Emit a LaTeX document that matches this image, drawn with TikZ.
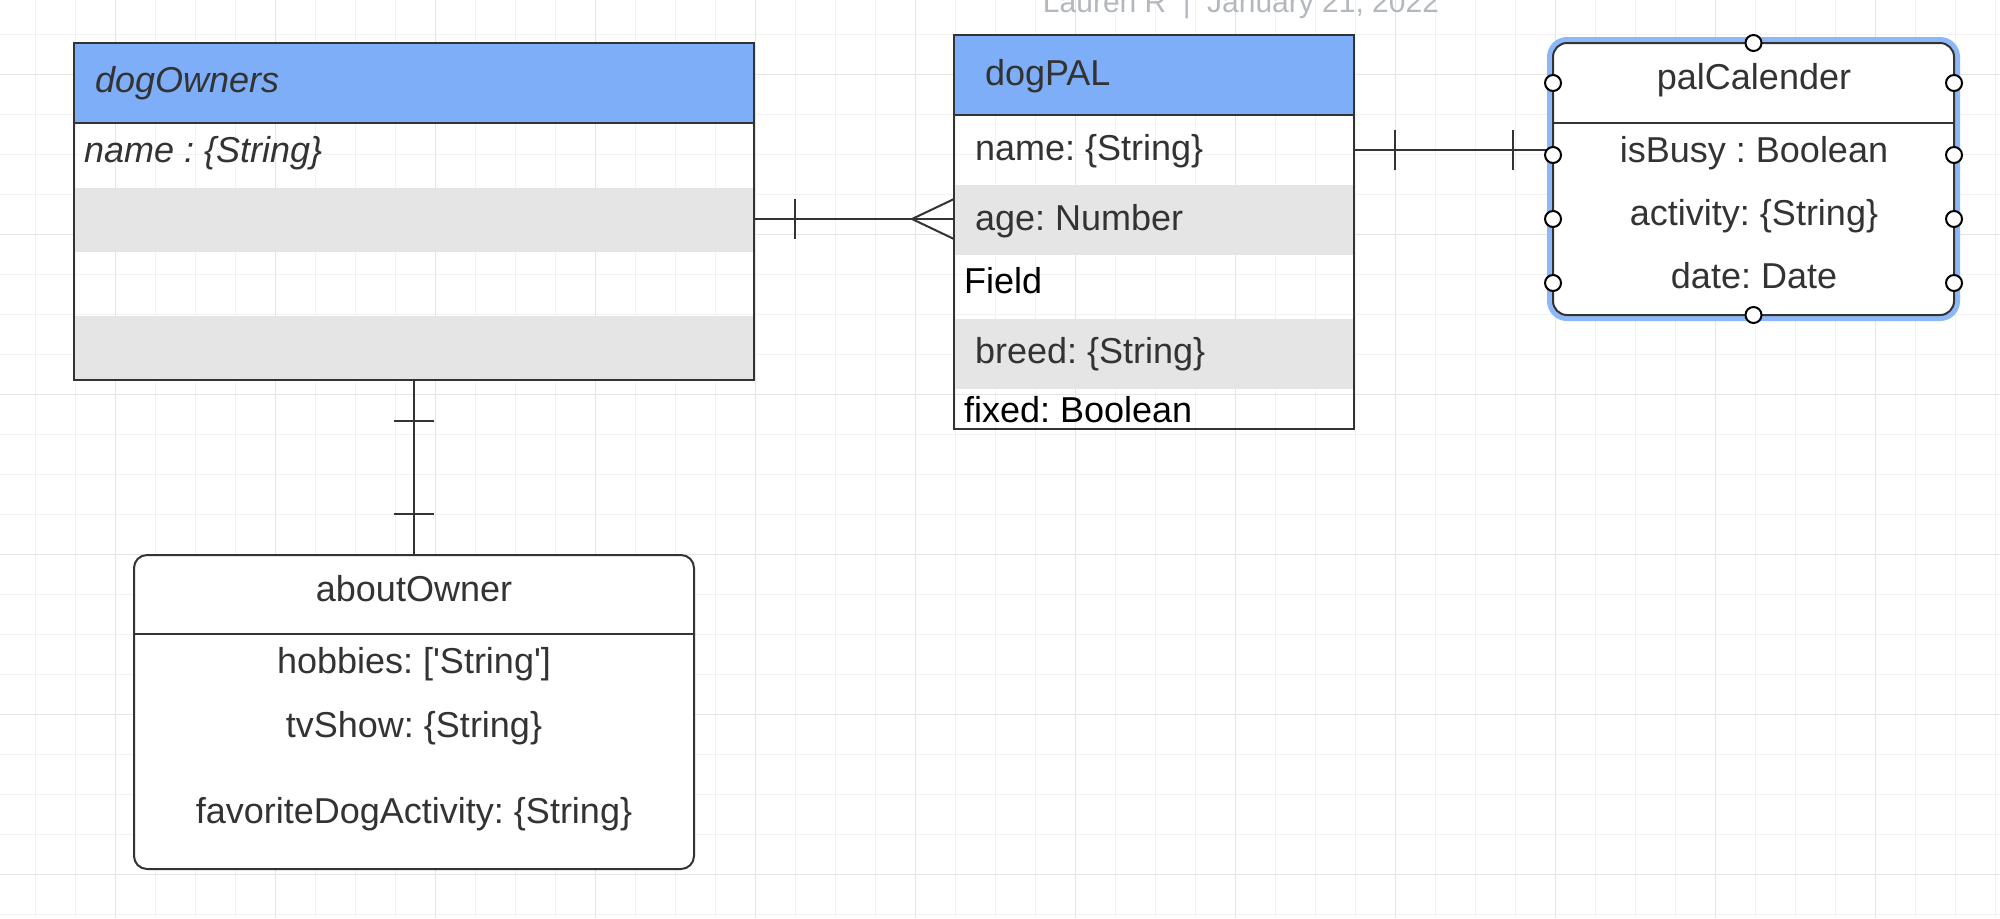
\documentclass[tikz,border=0pt]{standalone}
\usepackage{fontspec}
\setmainfont{Liberation Sans}
\usetikzlibrary{calc}
\definecolor{hdr}{HTML}{7DAEF7}
\definecolor{rowgray}{HTML}{E5E5E5}
\definecolor{txt}{HTML}{333333}
\definecolor{edge}{HTML}{333333}
\definecolor{selblue}{HTML}{8DB8F7}
\definecolor{gridminor}{HTML}{F2F2F2}
\definecolor{gridmajor}{HTML}{E4E4E4}
\definecolor{titlegray}{HTML}{B3B7BE}
\frenchspacing
\begin{document}
\begin{tikzpicture}[x=0.5pt,y=-0.5pt,
  fillrect/.style={inner sep=0, outer sep=0, anchor=north west, draw=none},
  hdrfill/.style={fillrect, fill=hdr},
  grayrow/.style={fillrect, fill=rowgray},
  box/.style={inner sep=0, outer sep=0, anchor=north west, draw=edge, line width=1pt},
  rbox/.style={box, fill=white, rounded corners=7pt},
  edgeline/.style={draw=edge, line width=1pt},
  conn/.style={draw=edge, line width=1pt},
  lbl/.style={inner sep=0, outer sep=0, text=txt, font=\fontsize{18}{21}\selectfont},
  blk/.style={lbl, text=black},
  port/.style={circle, draw=black, fill=white, line width=1pt, minimum size=8pt, inner sep=0}
]
\useasboundingbox (0,0) rectangle (2000,918);
\fill[white] (0,0) rectangle (2000,918);
% grid
\foreach \x in {35,75,...,1995} \draw[gridminor, line width=0.5pt] (\x,0) -- (\x,918);
\foreach \y in {34,74,...,914} \draw[gridminor, line width=0.5pt] (0,\y) -- (2000,\y);
\foreach \x in {115,275,...,1875} \draw[gridmajor, line width=0.5pt] (\x,0) -- (\x,918);
\foreach \y in {74,234,...,874} \draw[gridmajor, line width=0.5pt] (0,\y) -- (2000,\y);

% title
\node[inner sep=0, anchor=base, text=titlegray, font=\fontsize{15}{18}\selectfont] (title) at (1241,12) {Lauren R\hspace{0.55em}|\hspace{0.55em}January 21, 2022};

% dogOwners
\node[hdrfill, minimum width=340pt, minimum height=40pt] (doH) at (74,43) {};
\node[grayrow, minimum width=340pt, minimum height=31.75pt] (doR2) at (74,188) {};
\node[grayrow, minimum width=340pt, minimum height=32pt] (doR4) at (74,316) {};
\node[box, minimum width=340pt, minimum height=168.5pt] (dogOwners) at (74,43) {};
\draw[edgeline] (doH.south west) -- (doH.south east);
\node[lbl, anchor=base west, font=\fontsize{18}{21}\selectfont\itshape] (doT) at (95,92) {dogOwners};
\node[lbl, anchor=base west, font=\fontsize{18}{21}\selectfont\itshape] (doA1) at (84,162) {name : \{String\}};

% dogPAL
\node[hdrfill, minimum width=200pt, minimum height=40pt] (dpH) at (954,35) {};
\node[grayrow, minimum width=200pt, minimum height=35pt] (dpR2) at (954,185) {};
\node[grayrow, minimum width=200pt, minimum height=35pt] (dpR4) at (954,319) {};
\node[box, minimum width=200pt, minimum height=197pt] (dogPAL) at (954,35) {};
\draw[edgeline] (dpH.south west) -- (dpH.south east);
\node[lbl, anchor=base west] (dpT) at (985,85) {dogPAL};
\node[lbl, anchor=base west] (dpA1) at (975,160) {name: \{String\}};
\node[lbl, anchor=base west] (dpA2) at (975,230) {age: Number};
\node[blk, anchor=base west] (dpA3) at (964,293) {Field};
\node[lbl, anchor=base west] (dpA4) at (975,363) {breed: \{String\}};
\node[blk, anchor=base west] (dpA5) at (964,422) {fixed: Boolean};

% palCalender
\draw[selblue, line width=4pt, rounded corners=8pt] (1551,41) rectangle (1956,317);
\node[rbox, minimum width=200.5pt, minimum height=136pt] (palCalender) at (1553,43) {};
\draw[edgeline] ($(palCalender.north west)+(0,80)$) -- ($(palCalender.north east)+(0,80)$);
\node[lbl, anchor=base] (pcT) at (1754,89) {palCalender};
\node[lbl, anchor=base] (pcA1) at (1754,162) {isBusy : Boolean};
\node[lbl, anchor=base] (pcA2) at (1754,225) {activity: \{String\}};
\node[lbl, anchor=base] (pcA3) at (1754,288) {date: Date};

% aboutOwner
\node[rbox, minimum width=280pt, minimum height=157pt, rounded corners=6.5pt] (aboutOwner) at (134,555) {};
\draw[edgeline] ($(aboutOwner.north west)+(0,79)$) -- ($(aboutOwner.north east)+(0,79)$);
\node[lbl, anchor=base] (aoT) at (414,601) {aboutOwner};
\node[lbl, anchor=base] (aoA1) at (414,673) {hobbies: [\textquotesingle String\textquotesingle]};
\node[lbl, anchor=base] (aoA2) at (414,737) {tvShow: \{String\}};
\node[lbl, anchor=base] (aoA3) at (414,823) {favoriteDogActivity: \{String\}};

% connector dogOwners -- dogPAL (one to many)
\coordinate (c1a) at ($(dogOwners.north east)+(0,176)$);
\coordinate (c1b) at ($(dogPAL.north west)+(0,184)$);
\draw[conn] (c1a) -- (c1b);
\draw[conn] ($(c1a)+(41,-20)$) -- ($(c1a)+(41,20)$);
\draw[conn] ($(c1b)+(0,-20)$) -- ($(c1b)+(-42,0)$) -- ($(c1b)+(0,20)$);

% connector dogPAL -- palCalender (one to one)
\coordinate (c2a) at ($(dogPAL.north east)+(0,115)$);
\coordinate (c2b) at ($(palCalender.north west)+(0,107)$);
\draw[conn] (c2a) -- (c2b);
\draw[conn] ($(c2a)+(41,-20)$) -- ($(c2a)+(41,20)$);
\draw[conn] ($(c2b)+(-40,-20)$) -- ($(c2b)+(-40,20)$);

% connector dogOwners -- aboutOwner (one to one)
\draw[conn] (dogOwners.south) -- (aboutOwner.north);
\draw[conn] ($(dogOwners.south)+(-20,41)$) -- ($(dogOwners.south)+(20,41)$);
\draw[conn] ($(aboutOwner.north)+(-20,-41)$) -- ($(aboutOwner.north)+(20,-41)$);

% palCalender ports
\node[port] (p1) at (palCalender.north) {};
\node[port] (p2) at (palCalender.south) {};
\foreach \yy [count=\i] in {40,112,176,240} {
  \node[port] (pl\i) at ($(palCalender.north west)+(0,\yy)$) {};
  \node[port] (pr\i) at ($(palCalender.north east)+(0,\yy)$) {};
}
\end{tikzpicture}
\end{document}
